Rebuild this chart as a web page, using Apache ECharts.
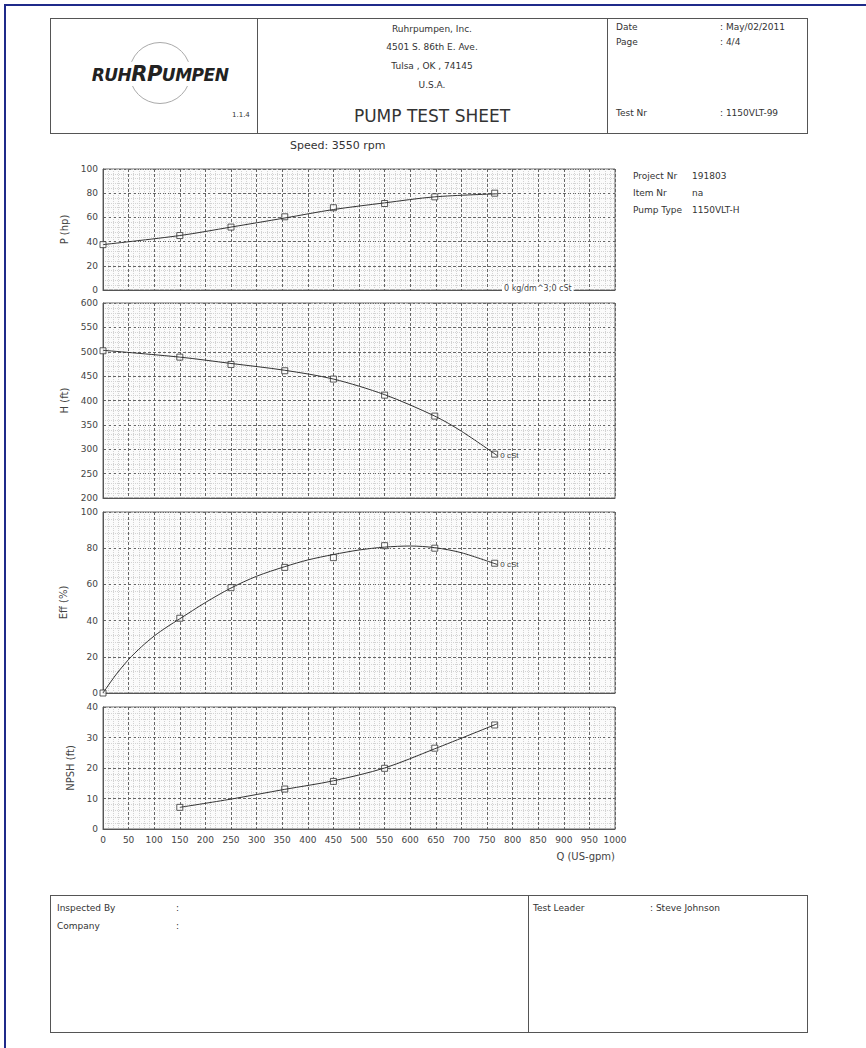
<!DOCTYPE html>
<html>
<head>
<meta charset="utf-8">
<script src="https://cdn.jsdelivr.net/npm/echarts@6.0.0/dist/echarts.min.js"></script>
<style>
  html, body { margin: 0; padding: 0; background: #fff; }
  body { width: 866px; height: 1048px; position: relative; overflow: hidden;
         font-family: "DejaVu Sans", Verdana, sans-serif; color: #333; }
  #chart { position: absolute; left: 0; top: 0; width: 866px; height: 1048px; }
  .frame { position: absolute; left: 4px; top: 4px; right: -4px; bottom: -4px;
           border-top: 2px solid #1f2a8a; border-left: 2px solid #1f2a8a; }
  .box { position: absolute; border: 1px solid #555; }
  .vline { position: absolute; width: 0; border-left: 1px solid #555; }
  .t { position: absolute; font-size: 9px; white-space: nowrap; color: #333; }
  .c { transform: translateX(-50%); }
  .logo-ring { position: absolute; left: 129px; top: 42px; width: 60px; height: 60px;
               border: 1.5px solid #aaa; border-radius: 50%; }
  .logo { position: absolute; left: 160px; top: 62px; transform: translateX(-50%);
          font: italic bold 17px "DejaVu Sans", sans-serif; color: #222; background: #fff;
          padding: 0 2px; letter-spacing: -0.5px; white-space: nowrap; }
  .logo b { font-size: 21px; }
</style>
</head>
<body>
<div class="frame"></div>
<div id="chart"></div>

<!-- header -->
<div class="box" style="left:50px;top:18px;width:756px;height:114px;"></div>
<div class="vline" style="left:257px;top:18px;height:115px;"></div>
<div class="vline" style="left:607px;top:18px;height:115px;"></div>
<div class="logo-ring"></div>
<div class="logo">RUH<b>R</b><b>P</b>UMPEN</div>
<div class="t" style="left:232px;top:111px;font-size:7px;">1.1.4</div>
<div class="t c" style="left:432px;top:24px;">Ruhrpumpen, Inc.</div>
<div class="t c" style="left:432px;top:42px;">4501 S. 86th E. Ave.</div>
<div class="t c" style="left:432px;top:61px;">Tulsa , OK , 74145</div>
<div class="t c" style="left:432px;top:80px;">U.S.A.</div>
<div class="t c" style="left:432px;top:106px;font-size:17px;">PUMP TEST SHEET</div>
<div class="t" style="left:616px;top:22px;">Date</div>
<div class="t" style="left:720px;top:22px;">: May/02/2011</div>
<div class="t" style="left:616px;top:37px;">Page</div>
<div class="t" style="left:720px;top:37px;">: 4/4</div>
<div class="t" style="left:616px;top:108px;">Test Nr</div>
<div class="t" style="left:720px;top:108px;">: 1150VLT-99</div>

<div class="t" style="left:290px;top:139px;font-size:11px;">Speed: 3550 rpm</div>

<div class="t" style="left:633px;top:171px;">Project Nr</div>
<div class="t" style="left:692px;top:171px;">191803</div>
<div class="t" style="left:633px;top:188px;">Item Nr</div>
<div class="t" style="left:692px;top:188px;">na</div>
<div class="t" style="left:633px;top:205px;">Pump Type</div>
<div class="t" style="left:692px;top:205px;">1150VLT-H</div>

<!-- footer -->
<div class="box" style="left:50px;top:895px;width:756px;height:136px;"></div>
<div class="vline" style="left:528px;top:895px;height:137px;"></div>
<div class="t" style="left:57px;top:903px;">Inspected By</div>
<div class="t" style="left:176px;top:903px;">:</div>
<div class="t" style="left:57px;top:921px;">Company</div>
<div class="t" style="left:176px;top:921px;">:</div>
<div class="t" style="left:533px;top:903px;">Test Leader</div>
<div class="t" style="left:650px;top:903px;">: Steve Johnson</div>

<script>
// test points (Q in US-gpm)
const testQ = [0, 150, 250, 355, 450, 550, 648, 765];
const testP = [37.5, 45, 52, 60.5, 68, 71.5, 77, 80];
const testH = [502, 489, 474, 461, 444, 411, 368, 290];
const testEff = [0, 41.3, 58.2, 69.4, 74.8, 81.4, 80, 71.7];
const npshQ = [150, 355, 450, 550, 648, 765];
const testNpsh = [7.1, 13.1, 15.6, 19.9, 26.5, 34.1];

// fitted curves as drawn on the sheet
const curveP = [[0, 37.5], [150, 45], [250, 52], [355, 59.5], [450, 66.5], [550, 72], [648, 77], [770, 79.5]];
const curveH = [[0, 503], [150, 489], [250, 476], [355, 462], [450, 444], [550, 412], [648, 368], [700, 337], [770, 287]];
const curveEff = [[0, 0], [25, 10], [50, 18.5], [75, 25.5], [100, 31.5], [125, 36.5], [150, 41], [200, 50],
                  [250, 58], [300, 64.5], [355, 69.8], [400, 73.5], [450, 76.5], [500, 79], [550, 80.6],
                  [600, 81.2], [648, 80.3], [700, 77.5], [770, 71]];
const curveNpsh = [[150, 7.1], [250, 9.8], [355, 13], [450, 15.8], [550, 20], [648, 26.3], [770, 34.5]];

const xTicks = [0, 1000, 50];
const panels = [
  { name: "P (hp)", min: 0, max: 100, interval: 20, top: 169, height: 121, gap: 34 },
  { name: "H (ft)", min: 200, max: 600, interval: 50, top: 303, height: 195, gap: 33 },
  { name: "Eff (%)", min: 0, max: 100, interval: 20, top: 512, height: 181, gap: 35 },
  { name: "NPSH (ft)", min: 0, max: 40, interval: 10, top: 707, height: 122, gap: 28 }
];

const chart = echarts.init(document.getElementById("chart"), null, { renderer: "svg" });

const grids = panels.map((p) => ({
  left: 103, width: 512, top: p.top, height: p.height,
  show: true, borderColor: "#666", borderWidth: 1, backgroundColor: "#fbfbfb"
}));

const xAxes = panels.map((p, i) => ({
  type: "value", gridIndex: i, min: xTicks[0], max: xTicks[1], interval: xTicks[2],
  axisLine: { show: true, lineStyle: { color: "#555" } },
  axisTick: { show: false },
  axisLabel: { show: i === 3, fontSize: 9, color: "#444", margin: 6, fontFamily: "DejaVu Sans",
               formatter: (v) => String(v) },
  splitLine: { show: true, lineStyle: { color: "#666", type: [3, 2], width: 1 } },
  minorTick: { show: false, splitNumber: 5 },
  minorSplitLine: { show: true, lineStyle: { color: "#d3d3d3", type: [1, 1], width: 1 } },
  name: i === 3 ? "Q (US-gpm)" : "",
  nameLocation: "end",
  nameGap: 0,
  nameTextStyle: { fontSize: 10, color: "#444", align: "right", verticalAlign: "top",
                   padding: [22, 0, 0, 0], fontFamily: "DejaVu Sans" }
}));

const yAxes = panels.map((p, i) => ({
  type: "value", gridIndex: i, min: p.min, max: p.max, interval: p.interval,
  axisLine: { show: true, lineStyle: { color: "#555" } },
  axisTick: { show: false },
  axisLabel: { fontSize: 9, color: "#444", margin: 5, fontFamily: "DejaVu Sans" },
  splitLine: { show: true, lineStyle: { color: "#666", type: [3, 2], width: 1 } },
  minorTick: { show: false, splitNumber: 5 },
  minorSplitLine: { show: true, lineStyle: { color: "#d3d3d3", type: [1, 1], width: 1 } },
  name: p.name, nameLocation: "middle", nameGap: p.gap,
  nameTextStyle: { fontSize: 10, color: "#444", fontFamily: "DejaVu Sans" }
}));

function curve(i, data, label) {
  return {
    type: "line", xAxisIndex: i, yAxisIndex: i, data: data, smooth: 0.3,
    showSymbol: false, silent: true,
    lineStyle: { color: "#333", width: 1 },
    endLabel: label ? { show: true, formatter: label, fontSize: 8, color: "#444", distance: 3 } : { show: false }
  };
}
function points(i, xs, ys) {
  return {
    type: "scatter", xAxisIndex: i, yAxisIndex: i, clip: true,
    data: xs.map((x, k) => [x, ys[k]]),
    symbol: "rect", symbolSize: 6,
    itemStyle: { color: "#fff", borderColor: "#333", borderWidth: 1 }
  };
}

chart.setOption({
  animation: false,
  grid: grids,
  xAxis: xAxes,
  yAxis: yAxes,
  series: [
    curve(0, curveP), points(0, testQ, testP),
    curve(1, curveH, "0 cSt"), points(1, testQ, testH),
    curve(2, curveEff, "0 cSt"), points(2, testQ, testEff),
    curve(3, curveNpsh), points(3, npshQ, testNpsh)
  ],
  graphic: [
    {
      type: "text", left: 502, top: 284, z: 100,
      style: { text: "0 kg/dm^3;0 cSt", fontSize: 8, fill: "#444", backgroundColor: "#fff",
               padding: [0, 2], fontFamily: "DejaVu Sans" }
    }
  ]
});
</script>
</body>
</html>
